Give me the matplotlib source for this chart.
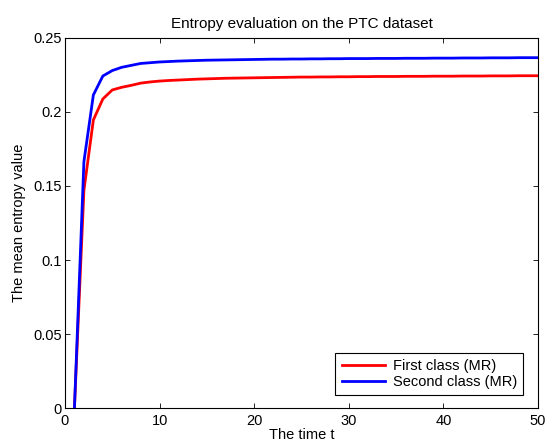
import matplotlib
matplotlib.use("Agg")
import matplotlib.pyplot as plt
import numpy as np

plt.rcParams['font.family'] = ['Liberation Sans', 'DejaVu Sans']

t = list(range(1, 51))
first_class = [0.0, 0.147, 0.1946, 0.2088, 0.2149, 0.2167, 0.2180, 0.2195, 0.2203, 0.2209,
               0.2213, 0.2216, 0.2219, 0.2222, 0.2224, 0.2226, 0.2228, 0.2229, 0.2230, 0.2231,
               0.2232, 0.2233, 0.2234, 0.2235, 0.2236, 0.2236, 0.2237, 0.2237, 0.2238, 0.2238,
               0.2239, 0.2239, 0.2240, 0.2240, 0.2240, 0.2241, 0.2241, 0.2241, 0.2242, 0.2242,
               0.2242, 0.2243, 0.2243, 0.2243, 0.2244, 0.2244, 0.2244, 0.2245, 0.2245, 0.2245]
second_class = [0.0, 0.1664, 0.2115, 0.2243, 0.2280, 0.2302, 0.2315, 0.2328, 0.2333, 0.2338,
                0.2341, 0.2344, 0.2346, 0.2348, 0.2350, 0.2351, 0.2352, 0.2353, 0.2354, 0.2355,
                0.2356, 0.2357, 0.2357, 0.2358, 0.2358, 0.2359, 0.2359, 0.2360, 0.2360, 0.2361,
                0.2361, 0.2361, 0.2362, 0.2362, 0.2362, 0.2363, 0.2363, 0.2363, 0.2364, 0.2364,
                0.2364, 0.2365, 0.2365, 0.2365, 0.2366, 0.2366, 0.2366, 0.2367, 0.2367, 0.2367]
labels = ['First class (MR)', 'Second class (MR)']
xticks = [0, 10, 20, 30, 40, 50]
yticks = [0, 0.05, 0.1, 0.15, 0.2, 0.25]
yticklabels = ['0', '0.05', '0.1', '0.15', '0.2', '0.25']

FS = 10.5
fig = plt.figure(figsize=(5.47, 4.46), dpi=100)
ax = fig.add_axes([0.1188, 0.0852, 0.8647, 0.8296])
ax.plot(t, first_class, color='#ff0000', lw=2, label=labels[0])
ax.plot(t, second_class, color='#0000ff', lw=2, label=labels[1])
ax.set_xlim(0, 50)
ax.set_ylim(0, 0.25)
ax.set_xticks(xticks)
ax.set_yticks(yticks)
ax.set_xticklabels([str(v) for v in xticks])
ax.set_yticklabels(yticklabels)
ax.tick_params(direction='in', top=True, right=True, labelsize=FS, length=3.4, width=0.6)
ax.tick_params(axis='x', pad=4.4)
ax.tick_params(axis='y', pad=2.5)
for s in ax.spines.values():
    s.set_linewidth(0.8)
ax.set_title('Entropy evaluation on the PTC dataset', fontsize=11, pad=7.5)
ax.set_xlabel('The time t', fontsize=FS, labelpad=0)
ax.set_ylabel('The mean entropy value', fontsize=FS, labelpad=5)
leg = ax.legend(loc='lower right', fontsize=FS, fancybox=False, edgecolor='black',
                framealpha=1, borderpad=0.42, handlelength=3.0, handletextpad=0.5,
                labelspacing=0.15, borderaxespad=0,
                bbox_to_anchor=(0.9683, 0.0351))
leg.get_frame().set_linewidth(0.8)
fig.savefig('out.png', dpi=100)
